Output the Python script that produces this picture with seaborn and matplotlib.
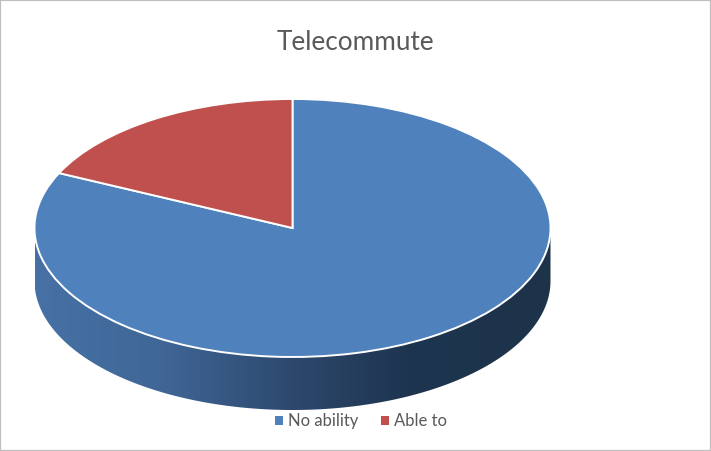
import numpy as np
import matplotlib
matplotlib.use("Agg")
import matplotlib.pyplot as plt
import seaborn as sns
from matplotlib.colors import LinearSegmentedColormap
from matplotlib.patches import Polygon

# === DATA ===
labels = ["No ability", "Able to"]
shares = [82, 18]
slice_colors = ["#4F81BD", "#C0504D"]
wall_stops = [0.0, 0.25, 0.5, 0.72, 1.0]
wall_colors = ["#4771A5", "#3F6696", "#2D486D", "#1E3550", "#1D3349"]
title = "Telecommute"

sns.set_style("white")
plt.rcParams["font.family"] = ["Lato", "DejaVu Sans"]
palette = sns.color_palette(slice_colors)

W, H = 711, 451
CX, CY = 292.5, 228   # pie centre in pixels
RX, RY = 258, 129
DEPTH = 53 / RY       # side wall height in data units

fig = plt.figure(figsize=(W / 100, H / 100), dpi=100, facecolor="white")
ax = fig.add_axes([0, 0, 1, 1])

# === SIDE WALL ===
t = np.linspace(np.pi, 2 * np.pi, 200)
top_x, top_y = np.cos(t), np.sin(t)
wall_xy = np.vstack([np.column_stack([top_x, top_y]),
                     np.column_stack([top_x[::-1], top_y[::-1] - DEPTH])])
wall = Polygon(wall_xy, closed=True, transform=ax.transData, facecolor="none", edgecolor="none")
ax.add_patch(wall)
cmap = LinearSegmentedColormap.from_list("wall", list(zip(wall_stops, wall_colors)))
img = ax.imshow(np.linspace(0, 1, 256).reshape(1, -1), cmap=cmap, aspect="auto",
                extent=[-1, 1, -1 - DEPTH, 0], zorder=1)
img.set_clip_path(wall)

# === TOP ===
wedges, _ = ax.pie(shares, colors=palette, startangle=90, counterclock=False, radius=1,
                   wedgeprops={"edgecolor": "white", "linewidth": 1.4, "zorder": 2})

# stretch the round pie into the tilted ellipse
ax.set_aspect("auto")
ax.set_xlim(-CX / RX, (W - CX) / RX)
ax.set_ylim(-(H - CY) / RY, CY / RY)

# === TEXT ===
fig.text(355.5 / W, 1 - 42 / H, title, ha="center", va="center", fontsize=18.8, color="#595959")
leg = ax.legend(wedges, labels, loc="center", bbox_to_anchor=(361 / W, 1 - 421 / H), ncol=2, frameon=False,
                fontsize=12, labelcolor="#595959", handlelength=0.46, handleheight=0.46,
                handletextpad=0.3, columnspacing=1.36)
for h in leg.get_patches():
    h.set_edgecolor("none")

# === BORDER ===
ax.set_axis_on()
ax.set_xticks([])
ax.set_yticks([])
ax.set_frame_on(True)
for s in ax.spines.values():
    s.set_visible(True)
    s.set_color("#BFBFBF")
    s.set_linewidth(1.6)

fig.savefig("out.png", dpi=100, facecolor="white")
plt.close(fig)
